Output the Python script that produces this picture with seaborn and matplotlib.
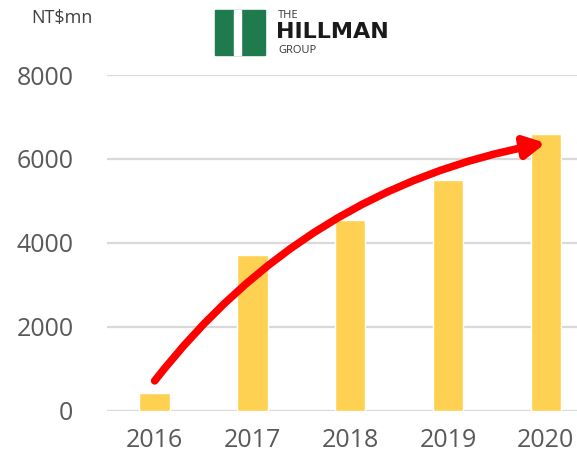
import matplotlib
matplotlib.use("Agg")
import matplotlib.pyplot as plt
import seaborn as sns
from matplotlib.patches import Rectangle

years = ["2016", "2017", "2018", "2019", "2020"]
revenue = [420, 3720, 4550, 5490, 6590]
y_ticks = [0, 2000, 4000, 6000, 8000]

sns.set_style("white")
plt.rcParams["font.family"] = ["Open Sans", "DejaVu Sans"]

fig = plt.figure(figsize=(5.77, 4.69), dpi=100)
ax = fig.add_axes([0.185, 0.124, 0.815, 0.716])

sns.barplot(x=years, y=revenue, color="#FFD152", saturation=1, width=0.31, ax=ax)

ax.set_ylim(0, 8000)
ax.set_xlim(-0.49, 4.32)
ax.set_yticks(y_ticks)
ax.yaxis.grid(True, color="#D9D9D9", linewidth=1.6)
ax.set_axisbelow(True)
for s in ax.spines.values():
    s.set_visible(False)
ax.tick_params(axis="y", length=0, pad=24, labelsize=18, labelcolor="#595959")
ax.tick_params(axis="x", length=0, pad=12, labelsize=18, labelcolor="#595959")
ax.set_xlabel("")
ax.set_ylabel("")

# growth arrow
ax.annotate("", xy=(4.0, 6380), xytext=(0.0, 714),
            arrowprops=dict(arrowstyle="-|>,head_length=0.6,head_width=0.32",
                            mutation_scale=20, color="#FF0000", lw=5.5,
                            capstyle="round", shrinkA=0, shrinkB=0,
                            connectionstyle="arc3,rad=-0.19"))

fig.text(0.055, 0.962, "NT$mn", fontsize=13, color="#404040", va="center")

# logo
fig.add_artist(Rectangle((0.373, 0.883), 0.087, 0.096, transform=fig.transFigure,
                         color="#1F7A4D"))
fig.add_artist(Rectangle((0.405, 0.883), 0.012, 0.096, transform=fig.transFigure,
                         color="white"))
fig.text(0.482, 0.968, "THE", fontsize=8, color="#333333", va="center")
fig.text(0.479, 0.932, "HILLMAN", fontsize=16, fontweight="heavy", color="#1A1A1A",
         va="center", family=["DejaVu Sans"])
fig.text(0.482, 0.893, "GROUP", fontsize=8, color="#333333", va="center")

fig.savefig("out.png", dpi=100)
